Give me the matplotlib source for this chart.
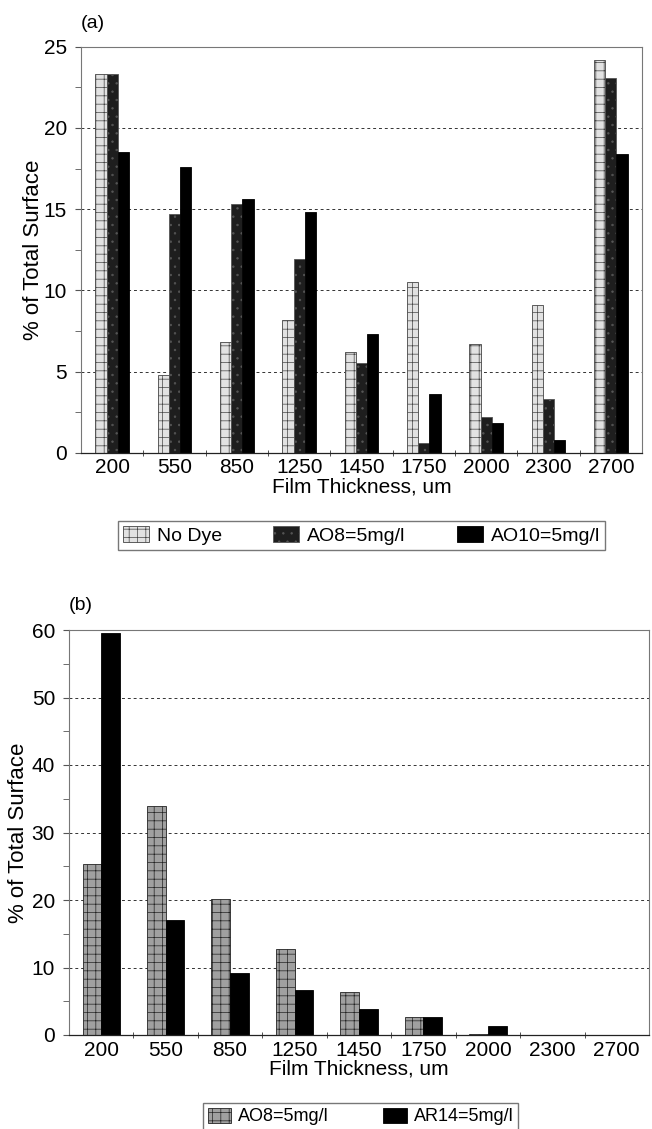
import matplotlib.pyplot as plt
import numpy as np

plt.rcParams['font.family'] = ['Liberation Sans', 'DejaVu Sans']
plt.rcParams['hatch.linewidth'] = 0.5

thickness = ['200', '550', '850', '1250', '1450', '1750', '2000', '2300', '2700']

# panel (a)
no_dye = [23.3, 4.8, 6.8, 8.2, 6.2, 10.5, 6.7, 9.1, 24.2]
ao8_a = [23.3, 14.7, 15.3, 11.9, 5.5, 0.6, 2.2, 3.3, 23.1]
ao10_a = [18.5, 17.6, 15.6, 14.8, 7.3, 3.6, 1.8, 0.8, 18.4]

# panel (b)
ao8_b = [25.3, 34.0, 20.1, 12.8, 6.3, 2.7, 0.2, 0.0, 0.0]
ar14_b = [59.6, 17.1, 9.2, 6.6, 3.9, 2.7, 1.4, 0.0, 0.0]

W, H = 652, 1129
fig = plt.figure(figsize=(W / 100, H / 100), dpi=100)


def box(l, t, r, b):
    return [l / W, 1 - b / H, (r - l) / W, (b - t) / H]


def style(ax, ymax, major):
    x = np.arange(len(thickness))
    ax.set_xlim(-0.5, len(thickness) - 0.5)
    ax.set_ylim(0, ymax)
    ax.set_yticks(np.arange(0, ymax + 0.1, major))
    ax.set_yticks(np.arange(major / 2, ymax, major), minor=True)
    ax.set_xticks(x)
    ax.set_xticklabels(thickness)
    ax.set_xticks(x[:-1] + 0.5, minor=True)
    ax.tick_params(axis='x', which='major', length=0, labelsize=15, pad=4)
    ax.tick_params(axis='x', which='minor', length=5, direction='inout', color='#333')
    ax.tick_params(axis='y', which='both', direction='out', length=4, labelsize=15,
                   color='#555', pad=6)
    ax.yaxis.grid(True, linestyle=(0, (3, 3)), color='#333', linewidth=0.7)
    ax.set_axisbelow(True)
    for s in ['top', 'right', 'left']:
        ax.spines[s].set_color('#777')
        ax.spines[s].set_linewidth(0.8)
    ax.spines['bottom'].set_color('#222')
    ax.spines['bottom'].set_linewidth(0.9)
    ax.set_xlabel('Film Thickness, um', fontsize=15, labelpad=0)
    ax.set_ylabel('% of Total Surface', fontsize=16)


# ---- (a)
ax1 = fig.add_axes(box(81, 46.7, 642, 452.7))
x = np.arange(len(thickness))
w = 0.18
ax1.bar(x - w, no_dye, w, color='#e2e2e2', edgecolor='#444', hatch='++',
        linewidth=0.6, label='No Dye')
ax1.bar(x, ao8_a, w, color='#1e1e1e', edgecolor='#555', hatch='..',
        linewidth=0.6, label='AO8=5mg/l')
ax1.bar(x + w, ao10_a, w, color='black', edgecolor='black', linewidth=0.6,
        label='AO10=5mg/l')
style(ax1, 25, 5)
ax1.yaxis.set_label_coords(-0.066, 0.5)
ax1.text(0.0, 1.035, '(a)', transform=ax1.transAxes, fontsize=14, ha='left', va='bottom')
ax1.legend(loc='upper left', bbox_to_anchor=(118 / W, 1 - 552 / H, 487 / W, 31 / H),
           bbox_transform=fig.transFigure, mode='expand', ncol=3, fontsize=14,
           frameon=True, fancybox=False, edgecolor='#555', handlelength=1.35,
           handleheight=0.9, handletextpad=0.4, borderaxespad=0, borderpad=0.25)

# ---- (b)
ax2 = fig.add_axes(box(69, 630, 649, 1035))
wb = 0.29
ax2.bar(x - wb / 2, ao8_b, wb, color='#a0a0a0', edgecolor='#222', hatch='++',
        linewidth=0.6, label='AO8=5mg/l')
ax2.bar(x + wb / 2, ar14_b, wb, color='black', edgecolor='black', linewidth=0.6,
        label='AR14=5mg/l')
style(ax2, 60, 10)
ax2.yaxis.set_label_coords(-0.069, 0.5)
ax2.text(0.0, 1.04, '(b)', transform=ax2.transAxes, fontsize=14, ha='left', va='bottom')
ax2.legend(loc='upper left', bbox_to_anchor=(203 / W, 1 - 1127 / H, 315 / W, 24 / H),
           bbox_transform=fig.transFigure, mode='expand', ncol=2, fontsize=13,
           frameon=True, fancybox=False, edgecolor='#555', handlelength=1.3,
           handleheight=0.9, handletextpad=0.4, borderaxespad=0, borderpad=0.25)

fig.savefig('out.png', dpi=100)
